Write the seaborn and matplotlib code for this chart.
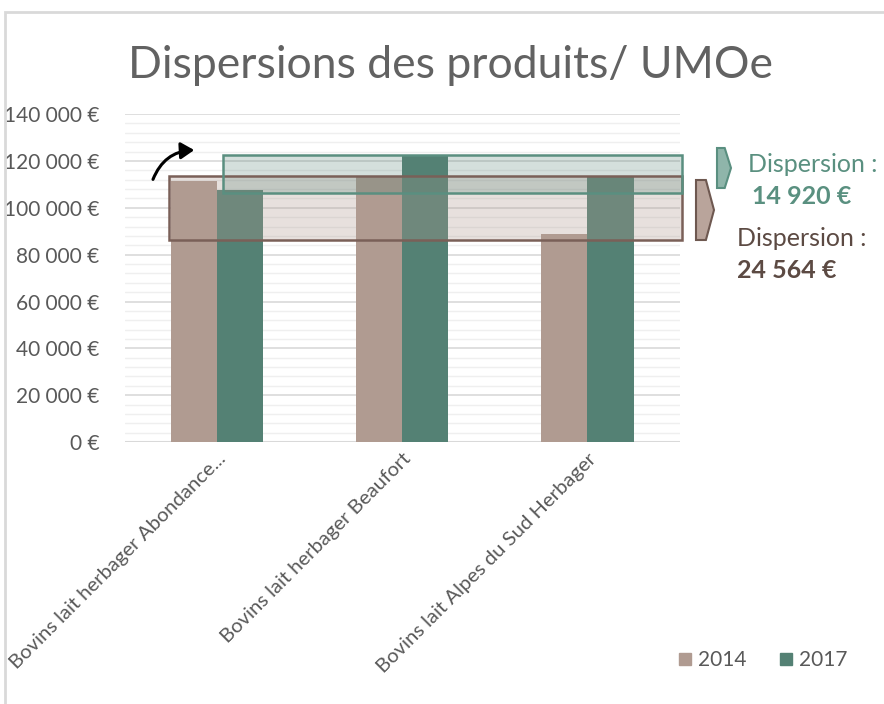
import pandas as pd
import seaborn as sns
import matplotlib.pyplot as plt
from matplotlib.patches import Rectangle, Polygon, FancyArrowPatch
from matplotlib.ticker import FuncFormatter, MultipleLocator

categories = ["Bovins lait herbager Abondance...",
              "Bovins lait herbager Beaufort",
              "Bovins lait Alpes du Sud Herbager"]
years = ["2014", "2017"]
values_2014 = [111500, 113400, 88836]
values_2017 = [107600, 122520, 113000]
dispersion_labels = ["14 920 €", "24 564 €"]

col_2014 = "#b09b91"
col_2017 = "#548174"
grey = "#595959"

df = pd.DataFrame({
    "categorie": categories * 2,
    "annee": ["2014"] * 3 + ["2017"] * 3,
    "valeur": values_2014 + values_2017,
})

sns.set_style("white")
plt.rcParams['font.family'] = ['Lato', 'DejaVu Sans']

fig = plt.figure(figsize=(8.84, 7.04), dpi=100)
ax = fig.add_axes([0.141, 0.372, 0.628, 0.466])

sns.barplot(data=df, x="categorie", y="valeur", hue="annee", hue_order=years,
            palette=[col_2014, col_2017], width=0.5, saturation=1, ax=ax, zorder=2,
            linewidth=0, edgecolor="none")

ax.set_ylim(0, 140000)
ax.set_xlim(-0.5, 2.5)
ax.yaxis.set_major_locator(MultipleLocator(20000))
ax.yaxis.set_minor_locator(MultipleLocator(4000))
ax.yaxis.set_major_formatter(FuncFormatter(lambda v, p: f"{int(v):,} €".replace(",", "\u202f")))
ax.grid(axis="y", which="major", color="#d9d9d9", lw=1.2, zorder=0)
ax.grid(axis="y", which="minor", color="#efefef", lw=1.0, zorder=0)
ax.set_axisbelow(True)
for s in ax.spines.values():
    s.set_visible(False)
ax.axhline(0, color="#d9d9d9", lw=1.5, zorder=1)
ax.tick_params(axis="both", length=0, colors=grey)
ax.tick_params(axis="y", pad=18, labelsize=15)
ax.tick_params(axis="x", pad=6, labelsize=14.6)
ax.set_xlabel("")
ax.set_ylabel("")
plt.setp(ax.get_xticklabels(), rotation=45, ha="right", rotation_mode="anchor")

# dispersion boxes
lo14, hi14 = min(values_2014), max(values_2014)
lo17, hi17 = min(values_2017), max(values_2017)
ax.add_patch(Rectangle((-0.26, lo14 - 2500), 2.77, hi14 - lo14 + 2500, facecolor=col_2014,
                       alpha=0.3, edgecolor="none", zorder=3, clip_on=False))
ax.add_patch(Rectangle((-0.26, lo14 - 2500), 2.77, hi14 - lo14 + 2500, facecolor="none",
                       edgecolor="#7a6058", lw=1.8, zorder=4, clip_on=False))
ax.add_patch(Rectangle((0.03, lo17 - 1200), 2.48, hi17 - lo17 + 1200, facecolor=col_2017,
                       alpha=0.25, edgecolor="none", zorder=3, clip_on=False))
ax.add_patch(Rectangle((0.03, lo17 - 1200), 2.48, hi17 - lo17 + 1200, facecolor="none",
                       edgecolor="#5a8f80", lw=1.8, zorder=4, clip_on=False))

ax.legend_.remove()

# curved arrow
fig.patches.append(FancyArrowPatch((152 / 884, 1 - 182 / 704), (197 / 884, 1 - 150 / 704),
                                   transform=fig.transFigure, connectionstyle="arc3,rad=-0.35",
                                   arrowstyle="-|>,head_length=8,head_width=5", color="black", lw=2.2))

# chevrons
def chevron(x0, y0, x1, y1, fc, ec):
    w = x1 - x0
    pts = [(x0, y0), (x0 + w * 0.55, y0), (x1, (y0 + y1) / 2), (x0 + w * 0.55, y1), (x0, y1)]
    pts = [(px / 884, 1 - py / 704) for px, py in pts]
    fig.patches.append(Polygon(pts, closed=True, transform=fig.transFigure,
                               facecolor=fc, edgecolor=ec, lw=1.5))

chevron(717, 148, 731, 188, "#8fb5aa", "#5a8f80")
chevron(696, 180, 714, 240, "#b9a49b", "#6e5850")

fig.text(748 / 884, 1 - 165 / 704, "Dispersion :", color="#5a9080", fontsize=18, va="center")
fig.text(752 / 884, 1 - 197 / 704, dispersion_labels[0], color="#5a9080", fontsize=18,
         fontweight="bold", va="center")
fig.text(737 / 884, 1 - 238 / 704, "Dispersion :", color="#5c4a43", fontsize=18, va="center")
fig.text(737 / 884, 1 - 270 / 704, dispersion_labels[1], color="#5c4a43", fontsize=18,
         fontweight="bold", va="center")

fig.text(450 / 884, 1 - 66 / 704, "Dispersions des produits/ UMOe", color="#626262",
         fontsize=32, ha="center", va="center")

# legend
handles = [plt.Line2D([], [], marker="s", ls="", color=c, markersize=9) for c in (col_2014, col_2017)]
fig.legend(handles, years, loc="center", bbox_to_anchor=(760 / 884, 1 - 660 / 704), ncol=2,
           frameon=False, fontsize=15, labelcolor=grey, handletextpad=0.0, columnspacing=1.3,
           handlelength=1.2)

# chart frame
fig.patches.append(Rectangle((5 / 884, -0.1), 1.2, 1 - 12 / 704 + 0.1, transform=fig.transFigure,
                             facecolor="none", edgecolor="#d9d9d9", lw=2))

fig.savefig("out.png", dpi=100)
